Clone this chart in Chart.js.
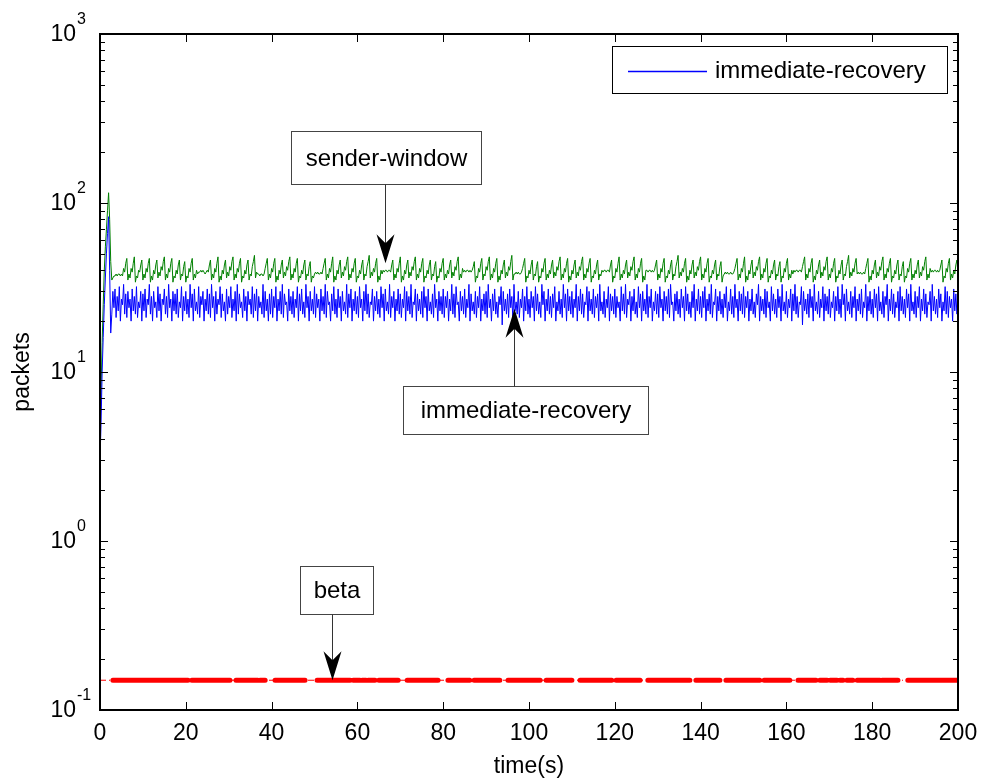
<!DOCTYPE html>
<html><head><meta charset="utf-8">
<script src="https://cdn.jsdelivr.net/npm/chart.js@4"></script>
<style>html,body{margin:0;padding:0;background:#fff}#wrap{width:983px;height:783px;position:relative}</style>
</head><body><div id="wrap"><canvas id="c" width="983" height="783"></canvas></div>
<script>
// sample spacing of the series (seconds)
const STEP_SW = 0.25;
const STEP_IR = 0.25;

// sender-window (green), one value every 0.25 s from t=0 to t=200
const senderWindow = [
4,8,15,25,40,55,70,90,115,80,45,35,36,37,37,38,37,38,38,37,38,37,41,39,44,47,35,38,36,41,39,44,48,34,37,36,40,39,43,46,
35,38,36,41,39,44,47,34,37,35,40,38,43,46,36,39,37,42,40,45,48,35,38,36,41,39,44,47,34,37,36,40,38,43,46,35,38,37,42,45,
34,37,36,41,39,44,47,35,38,36,40,38,39,39,40,39,40,39,38,39,40,39,43,46,35,38,36,41,39,44,48,34,37,35,40,38,43,46,36,39,
37,42,40,45,48,35,38,36,41,39,44,47,34,37,36,40,38,43,46,35,38,37,42,45,49,36,39,38,38,37,38,38,37,38,41,44,47,35,38,36,
41,39,44,47,34,37,35,40,38,43,46,36,39,37,42,40,45,48,35,38,36,41,39,44,47,34,37,36,40,38,43,46,35,38,37,42,45,34,37,36,
38,39,38,39,38,38,39,38,41,44,47,35,38,36,41,39,44,48,34,37,35,40,38,43,46,36,39,37,42,40,45,48,35,38,36,41,39,44,47,34,
37,36,40,38,43,46,35,38,37,42,45,49,36,39,37,41,39,44,47,34,37,35,40,38,40,39,40,40,39,40,40,39,43,46,35,38,36,41,39,44,
48,34,37,35,40,38,43,46,36,39,37,42,40,45,48,35,38,36,41,39,44,47,34,37,36,40,38,43,46,35,38,37,42,45,34,37,36,41,39,44,
47,35,38,36,40,38,43,46,36,39,37,42,40,45,48,35,38,36,41,39,40,39,40,40,39,40,39,40,42,45,34,37,36,41,39,44,47,35,38,37,
42,40,45,48,35,38,36,41,39,44,47,34,37,35,40,38,43,46,36,39,37,42,40,45,49,35,38,38,39,38,39,38,38,39,41,44,47,34,37,36,
40,38,43,46,35,38,37,42,45,34,37,36,41,39,44,47,35,38,36,40,38,43,46,36,39,37,42,40,45,48,35,38,36,41,39,44,47,34,37,35,
40,38,43,46,36,39,37,42,40,45,48,35,38,36,41,39,44,47,34,37,36,40,38,43,46,35,38,37,40,39,40,40,39,40,40,39,43,46,34,37,
36,41,39,44,48,35,38,36,40,38,43,46,36,39,37,42,40,45,48,35,38,36,41,39,44,47,34,37,35,40,40,39,40,40,39,40,39,40,43,46,
35,38,36,41,39,44,47,34,37,36,40,38,43,46,35,38,37,42,45,49,36,39,37,41,39,44,47,34,37,35,40,38,43,46,36,39,37,42,40,45,
48,35,38,36,41,39,44,47,34,37,36,40,38,43,46,35,38,37,42,45,34,37,38,39,38,39,38,38,39,38,38,39,41,44,47,35,38,36,41,39,
44,48,34,37,35,40,38,43,46,36,39,37,42,40,45,48,35,38,36,41,39,44,47,34,37,36,40,38,43,46,35,38,37,42,45,34,37,36,41,39,
44,47,35,38,36,40,38,40,39,40,40,39,40,40,39,42,45,48,35,38,36,41,39,44,47,34,37,35,40,38,43,46,36,39,37,42,40,45,48,35,
38,36,41,39,44,47,34,37,36,40,38,43,46,35,38,37,42,45,49,36,39,37,41,39,44,47,38,39,38,39,38,38,39,38,41,44,47,34,37,35,
40,38,43,46,36,39,37,42,40,45,48,35,38,36,41,39,44,47,34,37,36,40,38,43,46,35,38,37,42,45,34,37,36,41,39,44,47,35,38,36,
40,38,43,46,36,39,37,42,40,45,48,35,38,36,41,39,40,39,40,40,39,40,39,40,43,46,34,37,36,41,39,44,47,35,38,36,40,38,43,46,
38
];

// immediate-recovery (blue), one value every 0.25 s from t=0 to t=200
const immediateRecovery = [
3,5,10,16,25,36,50,66,83,40,17,22,30,24,31,21,28,23,32,20,27,25,33,22,29,21,30,24,27,20,31,23,28,22,32,21,26,24,30,20,
29,23,31,21,27,25,33,22,28,20,30,24,26,21,32,23,29,20,27,25,31,22,28,21,33,24,27,20,30,23,29,22,31,21,26,24,32,20,28,23,
30,22,27,21,33,24,29,20,31,23,26,22,32,21,28,25,30,20,27,23,31,22,29,21,33,24,28,20,30,22,27,25,32,21,29,23,26,20,31,22,
28,24,32,21,27,23,30,20,33,22,29,24,26,21,31,23,28,20,30,25,27,22,32,21,29,23,31,20,28,24,26,22,33,21,30,23,27,20,29,22,
31,21,28,24,32,20,27,23,30,22,33,21,29,25,26,20,31,23,28,22,30,21,27,24,32,20,29,23,31,22,26,21,33,24,28,20,30,23,27,22,
32,21,29,24,27,20,31,23,28,22,33,21,30,25,26,20,29,23,32,22,27,21,31,24,28,20,30,23,26,22,33,21,29,24,31,20,27,23,30,22,
28,21,32,24,27,20,30,23,33,22,29,21,26,25,31,20,28,23,30,22,27,21,32,24,29,20,31,23,26,22,33,21,28,24,30,20,27,23,31,22,
29,21,27,24,32,20,30,23,28,22,33,21,26,25,31,20,29,23,27,22,30,21,32,24,28,20,31,23,26,22,29,21,33,24,27,20,30,23,28,22,
31,21,28,24,30,20,27,23,33,22,29,21,32,25,26,20,30,23,28,22,31,21,27,24,33,20,29,23,26,22,30,21,28,24,32,20,27,23,29,22,
30,21,33,24,27,20,29,23,31,22,26,21,28,25,32,19,30,23,27,22,29,21,31,24,28,20,33,23,26,22,30,21,27,24,31,20,28,23,32,22,
27,21,30,24,28,20,32,23,29,22,26,21,33,25,30,20,27,23,31,22,28,21,29,24,32,20,26,23,30,22,27,21,33,24,29,20,31,23,28,22,
30,21,27,24,33,20,28,23,31,22,29,21,26,25,32,20,30,23,27,22,31,21,28,24,29,20,33,23,26,22,30,21,27,24,32,20,29,23,28,22,
31,21,28,24,26,20,32,23,29,22,33,21,27,25,30,20,28,23,31,22,26,21,32,24,29,20,30,23,27,22,33,21,28,24,31,20,26,23,30,22,
29,21,32,24,27,20,30,23,28,22,31,21,33,25,26,20,29,23,30,22,27,21,31,24,28,20,32,23,29,22,26,21,30,24,33,20,27,23,31,22,
28,21,30,24,32,20,27,23,29,22,33,21,26,25,31,20,28,23,30,22,27,21,29,24,32,20,26,23,31,22,28,21,33,24,27,20,30,23,29,22,
32,21,28,24,30,20,27,23,31,22,26,21,29,25,33,20,28,23,27,22,31,21,30,24,26,20,32,23,29,22,27,21,31,24,28,20,33,23,26,22,
30,21,27,24,31,20,29,23,33,22,28,21,26,25,32,19,30,23,27,22,29,21,31,24,28,20,33,23,26,22,30,21,27,24,32,20,29,23,28,22,
31,21,26,24,30,20,28,23,32,22,27,21,33,25,29,20,31,23,26,22,30,21,28,24,32,20,27,23,29,22,31,21,26,24,33,20,28,23,30,22,
27,21,31,24,29,20,32,23,26,22,30,21,28,25,33,20,27,23,31,22,29,21,26,24,30,20,32,23,28,22,27,21,31,24,29,20,33,23,26,22,
30,21,28,24,32,20,27,23,31,22,29,21,26,25,30,20,33,23,28,22,27,21,31,24,29,20,26,23,32,22,30,21,28,24,27,20,31,23,29,22,
28
];

// beta (red): constant value, marker runs [start, end] in seconds
const betaValue = 0.15;
const betaRuns = [
[3.0,20.5],[21.4,30.3],[31.7,36.8],[37.3,38.5],[40.8,47.8],[50.6,58.3],
[59.0,60.6],[61.1,62.0],[62.5,64.1],[65.0,69.5],[71.6,78.8],[81.1,86.2],
[87.2,93.2],[95.1,102.6],[104.0,110.0],[111.9,119.3],[120.3,125.9],[127.7,137.5],
[138.9,144.5],[145.9,153.8],[154.8,160.8],[162.7,166.9],[167.8,169.5],[170.2,171.8],
[172.5,173.2],[174.1,175.5],[176.5,181.8],[182.3,186.0],[188.3,199.8]
];

const xTickValues = [0,20,40,60,80,100,120,140,160,180,200];
const yDecadeExponents = [-1,0,1,2,3];
const xRange = [0,200];
const yRange = [0.1,1000];

const legendLabel = 'immediate-recovery';
const xTitle = 'time(s)';
const yTitle = 'packets';

// annotations: text + arrow tip in data coordinates
const notes = [
  {text:'sender-window', tipX:66.5, tipY:44, dir:1, box:{w:190,h:53,dx:-95,dy:-132}},
  {text:'immediate-recovery', tipX:96.5, tipY:23.7, dir:-1, box:{w:245,h:48,dx:-112,dy:77}},
  {text:'beta', tipX:54, tipY:0.15, dir:1, box:{w:73,h:48,dx:-33,dy:-114}}
];

const toXY = (arr, step) => arr.map((v,i) => ({x: i*step, y: v}));
const betaData = [];
betaRuns.forEach(r => { betaData.push({x:r[0],y:betaValue},{x:r[1],y:betaValue},{x:r[1],y:null}); });

const FONT = '"Liberation Sans", Arial, sans-serif';

const decor = {
  id:'decor',
  afterDraw(chart){
    const ctx = chart.ctx, ca = chart.chartArea;
    const xs = chart.scales.x, ys = chart.scales.y;
    ctx.save();
    // axis box
    ctx.strokeStyle = '#000'; ctx.lineWidth = 2;
    ctx.strokeRect(ca.left, ca.top, ca.right-ca.left, ca.bottom-ca.top);
    ctx.lineWidth = 1;
    // x ticks + labels
    ctx.fillStyle = '#000';
    ctx.font = '23px ' + FONT; ctx.textAlign = 'center'; ctx.textBaseline = 'middle';
    xTickValues.forEach(v => {
      const px = Math.round(xs.getPixelForValue(v)) + 0.5;
      ctx.beginPath();
      ctx.moveTo(px, ca.bottom); ctx.lineTo(px, ca.bottom-8);
      ctx.moveTo(px, ca.top); ctx.lineTo(px, ca.top+8);
      ctx.stroke();
      ctx.fillText(String(v), xs.getPixelForValue(v), ca.bottom+24);
    });
    // y ticks (log) + labels
    yDecadeExponents.forEach(e => {
      for (let m=1; m<=9; m++){
        const v = m*Math.pow(10,e);
        if (v < yRange[0]-1e-9 || v > yRange[1]+1e-9) continue;
        const py = Math.round(ys.getPixelForValue(v)) + 0.5;
        const len = (m===1) ? 8 : 5;
        ctx.beginPath();
        ctx.moveTo(ca.left, py); ctx.lineTo(ca.left+len, py);
        ctx.moveTo(ca.right, py); ctx.lineTo(ca.right-len, py);
        ctx.stroke();
      }
      const py = ys.getPixelForValue(Math.pow(10,e));
      ctx.textAlign = 'right'; ctx.textBaseline = 'middle';
      ctx.font = '23px ' + FONT;
      ctx.fillText('10', 76, py+1);
      ctx.textAlign = 'left';
      ctx.font = '16px ' + FONT;
      ctx.fillText(String(e), 77, py-14);
    });
    // axis titles
    ctx.font = '23px ' + FONT; ctx.textAlign = 'center'; ctx.textBaseline = 'middle';
    ctx.fillText(xTitle, (ca.left+ca.right)/2, 767);
    ctx.save();
    ctx.translate(23, (ca.top+ca.bottom)/2);
    ctx.rotate(-Math.PI/2);
    ctx.fillText(yTitle, 0, 0);
    ctx.restore();
    // legend
    const lx = ca.right-346, ly = ca.top+12, lw = 335, lh = 47;
    ctx.fillStyle = '#fff'; ctx.fillRect(lx, ly, lw, lh);
    ctx.strokeStyle = '#000'; ctx.lineWidth = 1;
    ctx.strokeRect(lx+0.5, ly+0.5, lw, lh);
    ctx.strokeStyle = '#0000ff'; ctx.lineWidth = 1.3;
    ctx.beginPath(); ctx.moveTo(lx+16, ly+25.5); ctx.lineTo(lx+95, ly+25.5); ctx.stroke();
    ctx.lineWidth = 1;
    ctx.fillStyle = '#000'; ctx.font = '24px ' + FONT; ctx.textAlign = 'left'; ctx.textBaseline = 'middle';
    ctx.fillText(legendLabel, lx+103, ly+25);
    // annotations
    notes.forEach(n => {
      const tx = Math.round(xs.getPixelForValue(n.tipX)) + 0.5;
      const ty = ys.getPixelForValue(n.tipY);
      const bx = Math.round(tx + n.box.dx) + 0.5;
      const by = Math.round(ty + n.box.dy) + 0.5;
      const bw = n.box.w, bh = n.box.h;
      ctx.fillStyle = '#fff'; ctx.fillRect(bx, by, bw, bh);
      ctx.strokeStyle = '#444'; ctx.lineWidth = 1;
      ctx.strokeRect(bx, by, bw, bh);
      ctx.fillStyle = '#000'; ctx.font = '24px ' + FONT; ctx.textAlign = 'center'; ctx.textBaseline = 'middle';
      ctx.fillText(n.text, bx + bw/2, by + bh/2 + 1);
      // arrow shaft
      const startY = n.dir > 0 ? by + bh : by;
      ctx.strokeStyle = '#333';
      ctx.beginPath(); ctx.moveTo(tx, startY); ctx.lineTo(tx, ty - n.dir*18); ctx.stroke();
      // arrow head
      ctx.fillStyle = '#000';
      ctx.beginPath();
      ctx.moveTo(tx, ty);
      ctx.lineTo(tx-9, ty - n.dir*29);
      ctx.lineTo(tx, ty - n.dir*20);
      ctx.lineTo(tx+9, ty - n.dir*29);
      ctx.closePath(); ctx.fill();
    });
    ctx.restore();
  }
};

new Chart(document.getElementById('c'), {
  type:'line',
  data:{
    datasets:[
      {label:'immediate-recovery', data: toXY(immediateRecovery, STEP_IR), borderColor:'#0000ff', borderWidth:1, pointRadius:0, tension:0},
      {label:'sender-window', data: toXY(senderWindow, STEP_SW), borderColor:'#008000', borderWidth:1, pointRadius:0, tension:0},
      {label:'beta', data: betaData, borderColor:'#ff0000', borderWidth:5, borderCapStyle:'round', pointRadius:0, spanGaps:false},
      {label:'beta-line', data: [{x:xRange[0],y:betaValue},{x:xRange[1],y:betaValue}], borderColor:'#ff0000', borderWidth:1, borderDash:[6,3,1,3], pointRadius:0}
    ]
  },
  options:{
    responsive:false, animation:false, devicePixelRatio:1,
    layout:{padding:{left:100, top:34, right:25, bottom:73}},
    scales:{
      x:{type:'linear', display:false, min:xRange[0], max:xRange[1]},
      y:{type:'logarithmic', display:false, min:yRange[0], max:yRange[1]}
    },
    plugins:{legend:{display:false}, tooltip:{enabled:false}}
  },
  plugins:[decor]
});
</script></body></html>
